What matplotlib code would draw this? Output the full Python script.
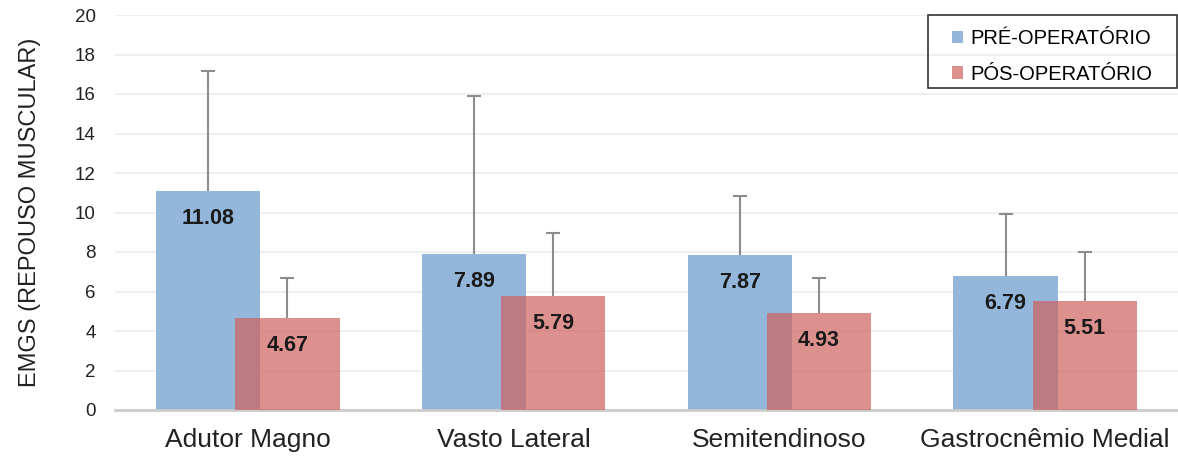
import numpy as np
import matplotlib.pyplot as plt
from matplotlib.patches import Rectangle

plt.rcParams['font.family'] = ['Liberation Sans', 'DejaVu Sans']

# data
musculos = ['Adutor Magno', 'Vasto Lateral', 'Semitendinoso', 'Gastrocnêmio Medial']
pre_op = [11.08, 7.89, 7.87, 6.79]
pos_op = [4.67, 5.79, 4.93, 5.51]
pre_dp = [6.1, 8.0, 2.95, 3.15]
pos_dp = [2.0, 3.15, 1.75, 2.5]

x = np.arange(len(musculos))
w = 0.392
off = 0.149

fig = plt.figure(figsize=(11.78, 4.57), dpi=100)
ax = fig.add_axes([115/1178, 47/457, 1063/1178, 395/457])

ax.bar(x - off, pre_op, w, color='#94b6da', label='PRÉ-OPERATÓRIO', zorder=2)
ax.bar(x + off, pos_op, w, color='#ce625f', alpha=0.7, label='PÓS-OPERATÓRIO', zorder=3)

# upper error bars only (no cap at the bar top)
for xs, vals, dp, z in [(x - off, pre_op, pre_dp, 2.5), (x + off, pos_op, pos_dp, 3.5)]:
    eb = ax.errorbar(xs, vals, yerr=[np.zeros(4), dp], fmt='none', ecolor='#8c8c8c',
                     elinewidth=1.5, capsize=5, capthick=1.5, zorder=z)
    eb[1][0].set_visible(False)

for i in range(len(musculos)):
    ax.text(x[i] - off, pre_op[i] - 1.4, f'{pre_op[i]:.2f}', ha='center', va='center',
            fontsize=15.5, fontweight='bold', color='#1a1a1a', zorder=5)
    ax.text(x[i] + off, pos_op[i] - 1.4, f'{pos_op[i]:.2f}', ha='center', va='center',
            fontsize=15.5, fontweight='bold', color='#1a1a1a', zorder=5)

ax.set_xlim(-0.5, 3.5)
ax.set_ylim(0, 20)
ax.set_yticks(range(0, 21, 2))
ax.set_xticks(x)
ax.set_xticklabels(musculos, fontsize=19, color='#222222')
ax.tick_params(axis='y', labelsize=13.5, colors='#222222', length=0, pad=14)
ax.tick_params(axis='x', length=0, pad=13)
ax.set_ylabel('EMGS (REPOUSO MUSCULAR)', fontsize=17, color='#222222', labelpad=24)

ax.grid(axis='y', color='#ececec', linewidth=1.2, zorder=0)
ax.set_axisbelow(True)
for s in ['top', 'right', 'left']:
    ax.spines[s].set_visible(False)
ax.spines['bottom'].set_color('#cccccc')
ax.spines['bottom'].set_linewidth(2)

# legend with a hand-sized box round it
leg = ax.legend(loc='upper right', bbox_to_anchor=(1 - 17/1063, 1 - 6/395), borderaxespad=0,
                fontsize=14.5, frameon=False, handlelength=0.55, handleheight=0.55,
                handletextpad=0.35, borderpad=0.42, labelspacing=0.8)
fig.canvas.draw()
bb = leg.get_window_extent().transformed(fig.transFigure.inverted())
padx = 15.5 / 1178
pad_bot = 4 / 457
pad_top = 6 / 457
fig.patches.append(Rectangle((bb.x0 - padx, bb.y0 + pad_bot), bb.width + 2 * padx,
                             bb.height - pad_bot + pad_top,
                             transform=fig.transFigure, fill=False,
                             edgecolor='#333333', linewidth=1.2, zorder=10))

fig.savefig('out.png', dpi=100)
